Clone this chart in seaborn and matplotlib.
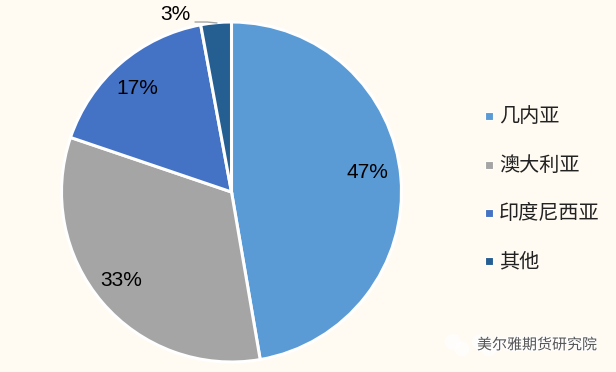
import matplotlib
matplotlib.use('Agg')
import matplotlib.pyplot as plt
import matplotlib.patheffects as pe
import seaborn as sns

categories = ['几内亚', '澳大利亚', '印度尼西亚', '其他']
shares = [47.3, 32.9, 16.9, 2.9]
colors = ['#5B9BD5', '#A5A5A5', '#4472C4', '#255E91']
bg = '#FFFBF2'
H = 372

sns.set_theme(style='white')
plt.rcParams['font.family'] = ['Liberation Sans', 'Noto Sans CJK SC', 'DejaVu Sans']

fig = plt.figure(figsize=(6.16, 3.72), dpi=100, facecolor=bg)
ax = fig.add_axes([0, 0, 1, 1], facecolor=bg)

wedges, _ = ax.pie(shares, colors=colors, startangle=90, counterclock=False,
                   center=(231.5, H - 192), radius=170, frame=True,
                   wedgeprops={'edgecolor': 'white', 'linewidth': 2.2})
ax.set_xlim(0, 616)
ax.set_ylim(0, H)
ax.set_aspect('equal')
ax.axis('off')

# label spots in pixels from the top left
label_pos = [(367, 172), (121, 280), (137, 88), (175, 15)]
for v, (x, y) in zip(shares, label_pos):
    ax.text(x, H - y, f'{v:.0f}%', fontsize=15, color='black', ha='center', va='center')
ax.plot([195, 207, 217], [H - 22, H - 22, H - 23], color='#A5A5A5', lw=1)

# legend rows, set by hand to hit the row spacing
rows = [116, 165, 213, 261]
for name, c, y in zip(categories, colors, rows):
    ax.plot([489], [H - y], marker='s', ls='', color=c, markersize=5.5,
            markeredgecolor='white', markeredgewidth=0.8)
    ax.text(499, H - y - 0.5, name, fontsize=14.5, color='#222222', ha='left', va='center')

# watermark: pale chat bubbles and halo text
ax.scatter([453, 462, 480, 489], [H - 342, H - 349, H - 342, H - 349],
           s=[130, 110, 130, 110], color='white', alpha=0.75, linewidths=0, zorder=3)
wm = ax.text(597, H - 345, '美尔雅期货研究院', fontsize=10.8, color='#555555',
             ha='right', va='center', zorder=4)
wm.set_path_effects([pe.withStroke(linewidth=1.5, foreground='white')])

fig.savefig('out.png', dpi=100, facecolor=bg)
